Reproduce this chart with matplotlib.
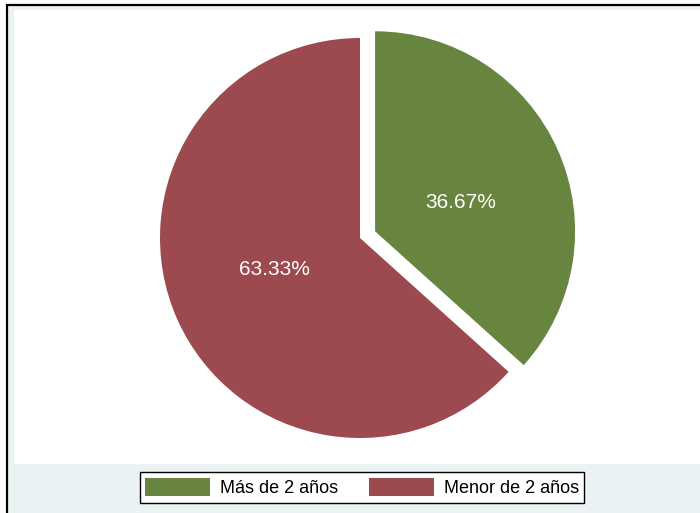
import matplotlib.pyplot as plt
from matplotlib.patches import Rectangle, Patch

plt.rcParams['font.family'] = ['Liberation Sans', 'DejaVu Sans']

# data
categories = ["Más de 2 años", "Menor de 2 años"]
counts = [11, 19]
colors = ["#67853f", "#9c4a4f"]

W, H = 700, 513
fig = plt.figure(figsize=(7, 5.13), dpi=100, facecolor="white")

# outer light background with black border (left/top visible)
bg = Rectangle((7 / W, -0.1), 1.2, 1.1 - 5 / H, transform=fig.transFigure,
               facecolor="#eaf2f3", edgecolor="black", linewidth=1.6, zorder=-5)
fig.patches.append(bg)

# white plot region, pixel coordinates as data units
ax = fig.add_axes([14 / W, (H - 464) / H, 1 - 14 / W, (464 - 10) / H])
ax.set_facecolor("white")

# explode is in data units here (radius 200)
wedges, texts, autotexts = ax.pie(
    counts, colors=colors, startangle=90, counterclock=False,
    explode=[16.5, 0], center=(360, H - 238), radius=200,
    autopct="%1.2f%%", pctdistance=0.47, frame=True,
    wedgeprops=dict(linewidth=0),
    textprops=dict(color="white", fontsize=15))

# nudge labels a bit, like the original
for t, dy in zip(autotexts, [-9, 7]):
    x, y = t.get_position()
    t.set_position((x, y + dy))

ax.set_aspect("auto")
ax.set_xlim(14, W)
ax.set_ylim(H - 464, H - 10)
ax.set_xticks([])
ax.set_yticks([])
for s in ax.spines.values():
    s.set_visible(False)

handles = [Patch(facecolor=c, edgecolor="none") for c in colors]
leg = fig.legend(handles, categories, loc="center", ncol=2,
                 bbox_to_anchor=(362 / W, 1 - 487.5 / H),
                 fontsize=13, frameon=True, fancybox=False,
                 edgecolor="black", facecolor="white", framealpha=1,
                 handlelength=3.6, handleheight=1.2, handletextpad=0.55,
                 columnspacing=1.7, borderpad=0.3, borderaxespad=0)
leg.get_frame().set_linewidth(1.0)

fig.savefig("out.png", dpi=100, facecolor=fig.get_facecolor())
